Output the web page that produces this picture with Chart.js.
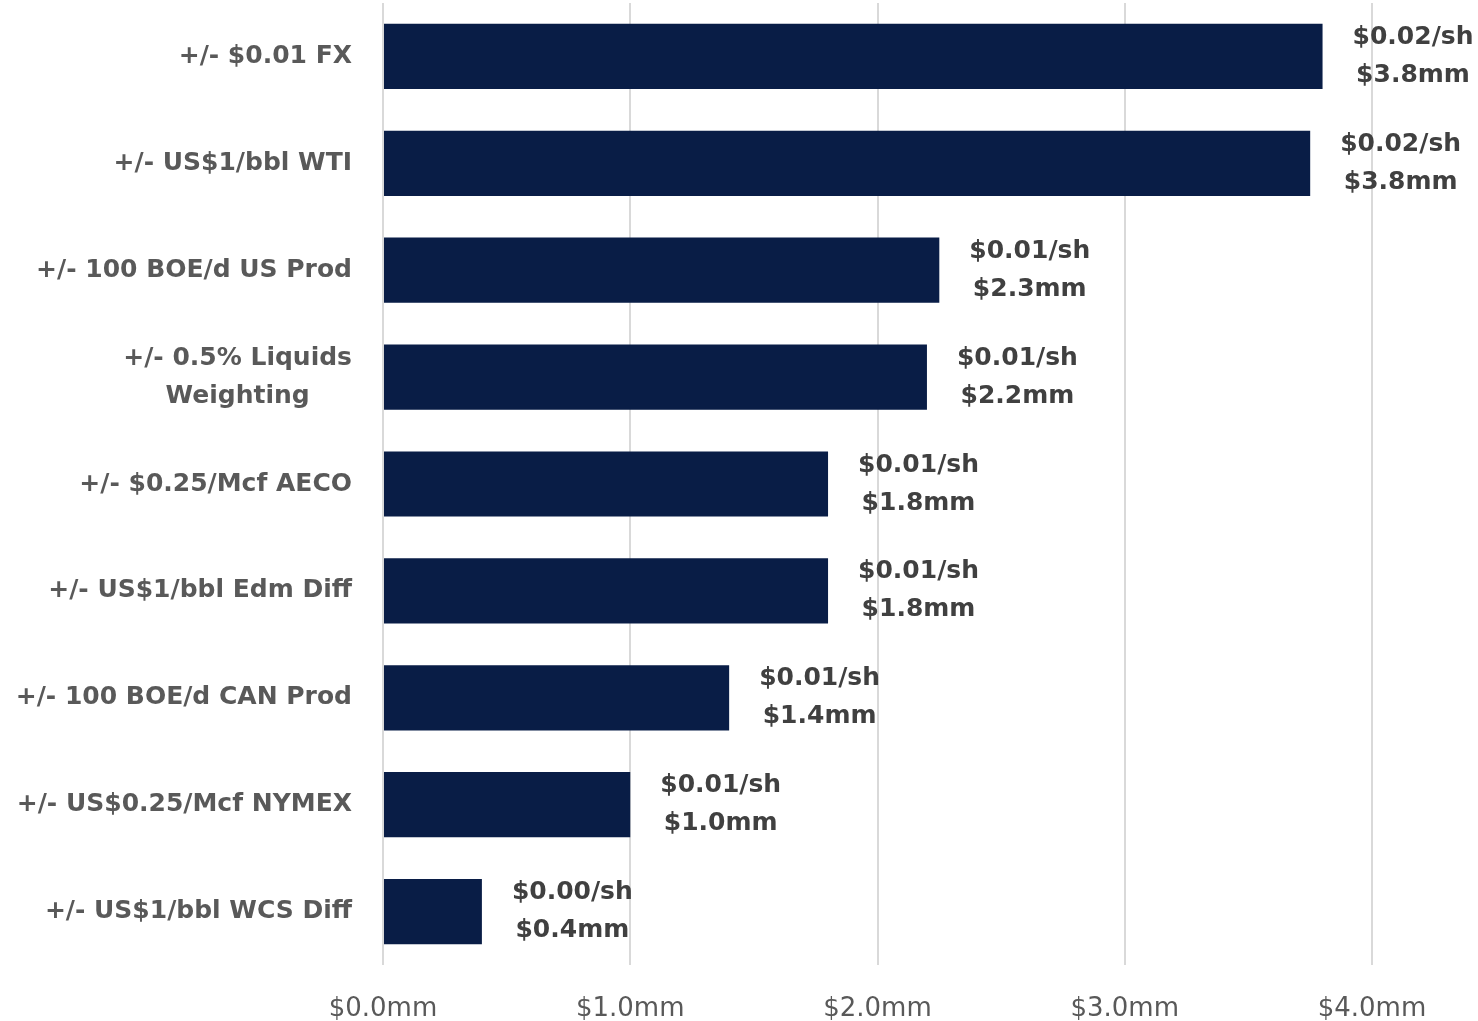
<!DOCTYPE html>
<html>
<head>
<meta charset="utf-8">
<script src="https://cdn.jsdelivr.net/npm/chart.js@4/dist/chart.umd.min.js"></script>
<style>
  html, body { margin: 0; padding: 0; background: #fff; }
  #wrap { width: 1478px; height: 1021px; }
</style>
</head>
<body>
<div id="wrap"><canvas id="sens"></canvas></div>
<script>
// sensitivities
var categories = [
  '+/- $0.01 FX',
  '+/- US$1/bbl WTI',
  '+/- 100 BOE/d US Prod',
  ['+/- 0.5% Liquids', 'Weighting'],
  '+/- $0.25/Mcf AECO',
  '+/- US$1/bbl Edm Diff',
  '+/- 100 BOE/d CAN Prod',
  '+/- US$0.25/Mcf NYMEX',
  '+/- US$1/bbl WCS Diff'
];
var impactMM = [3.8, 3.75, 2.25, 2.2, 1.8, 1.8, 1.4, 1.0, 0.4];
var perShareLabels = ['$0.02/sh', '$0.02/sh', '$0.01/sh', '$0.01/sh', '$0.01/sh', '$0.01/sh', '$0.01/sh', '$0.01/sh', '$0.00/sh'];
var mmLabels = ['$3.8mm', '$3.8mm', '$2.3mm', '$2.2mm', '$1.8mm', '$1.8mm', '$1.4mm', '$1.0mm', '$0.4mm'];
var xTicks = [0, 1, 2, 3, 4];

var FONT = '"DejaVu Sans", sans-serif';

// two-line value label to the right of each bar
var barLabels = {
  id: 'barLabels',
  afterDatasetsDraw: function(chart) {
    var ctx = chart.ctx;
    var meta = chart.getDatasetMeta(0);
    ctx.save();
    ctx.font = 'bold 25px ' + FONT;
    ctx.fillStyle = '#404040';
    ctx.textAlign = 'center';
    ctx.textBaseline = 'middle';
    meta.data.forEach(function(bar, i) {
      var w = ctx.measureText(perShareLabels[i]).width;
      var cx = bar.x + 30 + w / 2;
      ctx.fillText(perShareLabels[i], cx, bar.y - 19);
      ctx.fillText(mmLabels[i], cx, bar.y + 19);
    });
    ctx.restore();
  }
};

// category labels: right aligned, wrapped lines centred on each other
var catLabels = {
  id: 'catLabels',
  afterDraw: function(chart) {
    var ctx = chart.ctx;
    var yScale = chart.scales.y;
    var right = chart.chartArea.left - 31;
    ctx.save();
    ctx.font = 'bold 25px ' + FONT;
    ctx.fillStyle = '#595959';
    ctx.textAlign = 'center';
    ctx.textBaseline = 'middle';
    categories.forEach(function(lab, i) {
      var lines = Array.isArray(lab) ? lab : [lab];
      var maxW = Math.max.apply(null, lines.map(function(l) { return ctx.measureText(l).width; }));
      var cx = right - maxW / 2;
      var yc = yScale.getPixelForValue(i);
      var y0 = yc - (lines.length - 1) * 19;
      lines.forEach(function(l, k) {
        ctx.fillText(l, cx, y0 + k * 38);
      });
    });
    ctx.restore();
  }
};

var ctx = document.getElementById('sens').getContext('2d');
var sensChart = new Chart(ctx, {
  type: 'bar',
  data: {
    labels: categories,
    datasets: [{
      data: impactMM,
      backgroundColor: '#091d46',
      borderWidth: 0,
      barPercentage: 0.61,
      categoryPercentage: 1.0
    }]
  },
  options: {
    indexAxis: 'y',
    responsive: true,
    maintainAspectRatio: false,
    animation: false,
    layout: { padding: { top: 3, right: 106, bottom: 0, left: 0 } },
    plugins: {
      legend: { display: false },
      tooltip: { enabled: false }
    },
    scales: {
      x: {
        min: 0,
        max: 4,
        afterBuildTicks: function(scale) {
          scale.ticks = xTicks.map(function(v) { return { value: v }; });
        },
        afterFit: function(scale) {
          scale.height = 56;
          scale.paddingLeft = 0;
          scale.paddingRight = 0;
        },
        grid: { color: '#d9d9d9', lineWidth: 2, drawTicks: false },
        border: { display: false },
        ticks: {
          padding: 29,
          color: '#595959',
          font: { family: FONT, size: 26 },
          callback: function(v) { return '$' + Number(v).toFixed(1) + 'mm'; }
        }
      },
      y: {
        afterFit: function(scale) {
          scale.width = 383;
          scale.paddingTop = 0;
          scale.paddingBottom = 0;
        },
        grid: { display: false, drawTicks: false },
        border: { display: false },
        ticks: { display: false }
      }
    }
  },
  plugins: [barLabels, catLabels]
});
</script>
</body>
</html>
